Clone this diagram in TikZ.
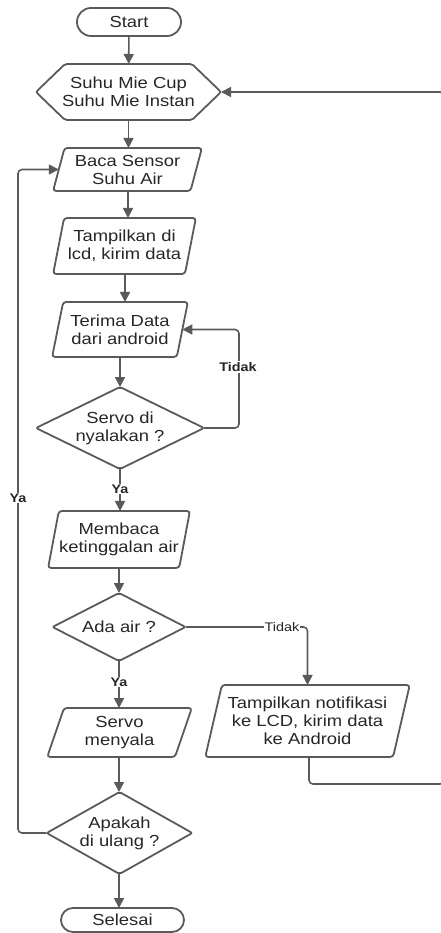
\documentclass[tikz,border=0pt]{standalone}
\usepackage{fontspec}
\setmainfont{Liberation Sans}[FakeStretch=1.15]
\usetikzlibrary{shapes.geometric,shapes.misc,arrows.meta}
\definecolor{ln}{HTML}{5A5A5A}
\definecolor{tx}{HTML}{262626}
\begin{document}
\begin{tikzpicture}[x=1pt,y=-1pt,
 box/.style={draw=ln, line width=1.8pt, text=tx, font=\fontsize{16}{18}\selectfont, align=center, inner sep=0pt, outer sep=0pt},
 term/.style={box, rounded rectangle},
 io/.style={box, trapezium, trapezium left angle=72, trapezium right angle=108, trapezium stretches=true, rounded corners=3pt},
 dec/.style={box, diamond, aspect=2, rounded corners=2pt},
 arr/.style={draw=ln, line width=1.6pt, -{Triangle[length=10pt,width=10pt]}},
 lbl/.style={fill=white, text=tx, font=\fontsize{12.5}{14}\selectfont, inner sep=1pt},
 lblb/.style={lbl, font=\fontsize{12.5}{14}\selectfont\bfseries},
]
\useasboundingbox (0,0) rectangle (441,933);
\clip (0,0) rectangle (441,933);

\node[term, minimum width=104pt, minimum height=28pt] (start) at (129,22) {Start};
\node[box, draw=none, minimum width=185pt, minimum height=56pt] (hex) at (128.5,92) {Suhu Mie Cup\\Suhu Mie Instan};
\draw[ln, line width=1.8pt, rounded corners=2pt] (hex.west) -- ([xshift=29pt]hex.north west) -- ([xshift=-29pt]hex.north east) -- (hex.east) -- ([xshift=-29pt]hex.south east) -- ([xshift=29pt]hex.south west) -- cycle;
\node[io, minimum width=149pt, minimum height=43pt] (baca) at (127.5,169.5) {Baca Sensor\\Suhu Air};
\node[io, minimum width=143pt, minimum height=56pt] (tamp) at (124.5,246) {Tampilkan di\\lcd, kirim data};
\node[io, minimum width=136pt, minimum height=55pt] (terima) at (120,329.5) {Terima Data\\dari android};
\node[dec, minimum width=168pt, minimum height=82pt] (servo) at (120,428) {Servo di\\nyalakan ?};
\node[io, minimum width=142pt, minimum height=57pt] (membaca) at (119,539.5) {Membaca\\ketinggalan air};
\node[dec, minimum width=133pt, minimum height=68pt] (ada) at (119,627) {Ada air ?};
\node[io, minimum width=205pt, minimum height=72pt] (notif) at (307.5,721) {Tampilkan notifikasi\\ke LCD, kirim data\\ke Android};
\node[io, minimum width=145pt, minimum height=49pt] (servom) at (119.5,732.5) {Servo\\menyala};
\node[dec, minimum width=135pt, minimum height=82pt] (apakah) at (119.5,833) {Apakah\\di ulang ?};
\node[term, minimum width=123pt, minimum height=24pt] (selesai) at (122.5,920) {Selesai};

\coordinate (c1) at (128,0);
\coordinate (c2) at (125,0);
\coordinate (c3) at (119,0);
\draw[arr] (start) -- (hex);
\draw[arr] (hex.south) -- (hex.south |- baca.north);
\draw[arr] (baca.south -| c1) -- (tamp.north -| c1);
\draw[arr] (tamp.south -| c2) -- (terima.north -| c2);
\draw[arr] (terima.south -| servo.north) -- (servo.north);
\draw[arr, rounded corners=4pt] (servo.east) -- ++(35,0) |- (terima.right side);
\node[lblb] (t1) at (238,367) {Tidak};
\draw[arr] (servo.south) -- (servo.south |- membaca.north);
\node[lblb] (y1) at (120,489) {Ya};
\draw[arr] (membaca.south -| c3) -- (ada.north -| c3);
\draw[arr, rounded corners=4pt] (ada.east) -- (307.5,627) -- (notif.north);
\node[lbl] (t2) at (282,627) {Tidak};
\draw[arr] (ada.south -| c3) -- (servom.north -| c3);
\node[lblb] (y2) at (119,682) {Ya};
\draw[arr] (servom.south -| c3) -- (apakah.north -| c3);
\draw[arr] (apakah.south -| c3) -- (selesai.north -| c3);
\draw[arr, rounded corners=4pt] (apakah.west) -- (18,833) |- (baca.left side);
\node[lblb] (y3) at (18,498) {Ya};
\coordinate (r1) at (444,784);
\coordinate (r2) at (444,92);
\draw[arr, rounded corners=4pt] (notif.south -| 309,0) -- (309,784) -- (r1) -- (r2) -- (hex.east);
\end{tikzpicture}
\end{document}
